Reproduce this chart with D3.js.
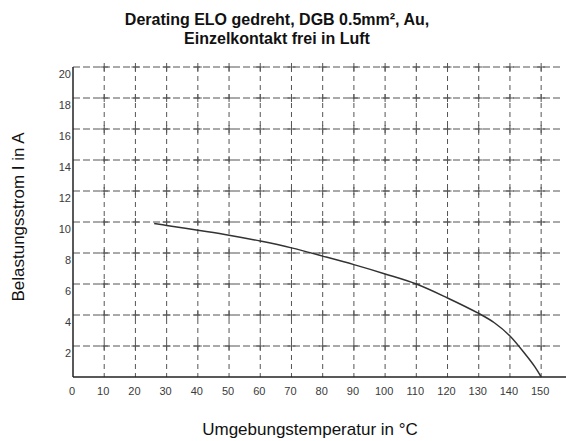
<!DOCTYPE html>
<html>
<head>
    <meta charset="utf-8">
    <script src="https://d3js.org/d3.v7.min.js"></script>
    <style>
        body {
            margin: 0;
            background-color: white;
        }

        text {
            font-family: "Liberation Sans", Arial, sans-serif;
        }

        .grid {
            stroke: #555;
            stroke-width: 1;
            fill: none;
        }

        .tick-label {
            font-size: 11px;
            fill: #3a3a3a;
        }

        .curve {
            fill: none;
            stroke: #333;
            stroke-width: 1.5px;
        }
    </style>
</head>
<body>
    <script>
        // Werte
        const temps   = [26, 30, 40, 50, 60, 70, 80, 90, 100, 110, 120, 130, 135, 140, 145, 148, 150];
        const current = [9.9, 9.78, 9.47, 9.15, 8.77, 8.33, 7.8, 7.25, 6.65, 6.0, 5.1, 4.1, 3.5, 2.65, 1.45, 0.65, 0];

        const xTicks = d3.range(0, 151, 10);
        const yTicks = d3.range(2, 21, 2);

        const width = 566;
        const height = 441;

        const svg = d3.select('body').append('svg')
            .attr('width', width)
            .attr('height', height);

        const x = d3.scaleLinear().domain([0, 157]).range([73, 563]);
        const y = d3.scaleLinear().domain([0, 20]).range([377, 67]);

        // Gitter
        const grid = svg.append('g');

        grid.selectAll('line.v')
            .data(xTicks.slice(1))
            .enter().append('line')
            .attr('class', 'grid v')
            .attr('x1', d => x(d)).attr('x2', d => x(d))
            .attr('y1', y(20)).attr('y2', y(0))
            .attr('stroke-dasharray', '5,4');

        grid.selectAll('line.h')
            .data(yTicks)
            .enter().append('line')
            .attr('class', 'grid h')
            .attr('x1', x(0)).attr('x2', x(157))
            .attr('y1', d => y(d)).attr('y2', d => y(d))
            .attr('stroke', d => d === 6 ? '#aaa' : '#555')
            .attr('stroke-dasharray', '7,3');

        // kleine Kreuze an den Schnittpunkten
        const crosses = [];
        xTicks.slice(1).forEach(tx => yTicks.forEach(ty => crosses.push([tx, ty])));
        grid.selectAll('path.cross')
            .data(crosses)
            .enter().append('path')
            .attr('class', 'grid')
            .attr('d', d => {
                const cx = x(d[0]), cy = y(d[1]);
                return `M${cx - 4},${cy}H${cx + 4}M${cx},${cy - 4}V${cy + 4}`;
            });

        // Achsen
        svg.append('line')
            .attr('x1', x(0)).attr('x2', x(0))
            .attr('y1', y(20)).attr('y2', y(0))
            .attr('stroke', '#222').attr('stroke-width', 1.5);

        svg.append('line')
            .attr('x1', x(0)).attr('x2', width)
            .attr('y1', y(0)).attr('y2', y(0))
            .attr('stroke', '#222').attr('stroke-width', 1.5);

        svg.append('g').selectAll('text')
            .data(xTicks)
            .enter().append('text')
            .attr('class', 'tick-label')
            .attr('x', d => x(d) - 1)
            .attr('y', 395)
            .attr('text-anchor', 'middle')
            .text(d => d);

        svg.append('g').selectAll('text')
            .data(yTicks)
            .enter().append('text')
            .attr('class', 'tick-label')
            .attr('x', 71)
            .attr('y', d => y(d) + 11)
            .attr('text-anchor', 'end')
            .text(d => d);

        // Kurve
        const line = d3.line()
            .x(d => x(d[0]))
            .y(d => y(d[1]))
            .curve(d3.curveCatmullRom.alpha(0.5));

        svg.append('path')
            .datum(temps.map((t, i) => [t, current[i]]))
            .attr('class', 'curve')
            .attr('d', line);

        // Titel und Beschriftungen
        const title = svg.append('text')
            .attr('text-anchor', 'middle')
            .style('font-size', '16px')
            .style('font-weight', 'bold')
            .attr('fill', '#111');
        title.append('tspan').attr('x', 277).attr('y', 25).text('Derating ELO gedreht, DGB 0.5mm², Au,');
        title.append('tspan').attr('x', 277).attr('y', 44).text('Einzelkontakt frei in Luft');

        svg.append('text')
            .attr('x', 310)
            .attr('y', 435)
            .attr('text-anchor', 'middle')
            .style('font-size', '17px')
            .attr('fill', '#111')
            .text('Umgebungstemperatur in °C');

        svg.append('text')
            .attr('transform', 'translate(24,217) rotate(-90)')
            .attr('text-anchor', 'middle')
            .style('font-size', '17px')
            .attr('fill', '#111')
            .text('Belastungsstrom I in A');
    </script>
</body>
</html>
